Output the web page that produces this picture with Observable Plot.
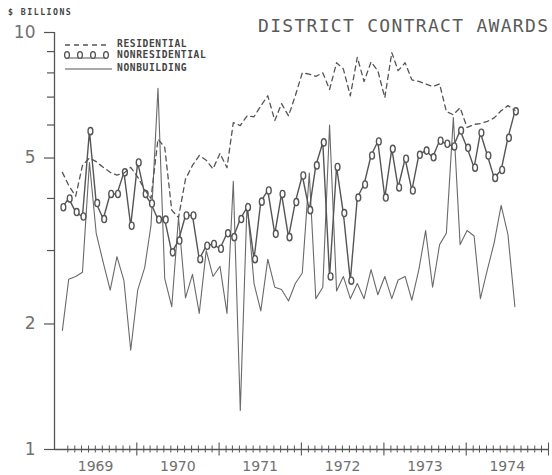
<!DOCTYPE html>
<html><head><meta charset="utf-8">
<script src="https://cdn.jsdelivr.net/npm/d3@7"></script>
<script src="https://cdn.jsdelivr.net/npm/@observablehq/plot@0.6"></script>
<style>
html,body{margin:0;padding:0;background:#fff;}
#wrap{position:relative;width:552px;height:475px;overflow:hidden;background:#fff;}
#overlay{position:absolute;left:0;top:0;pointer-events:none;}
svg text{-webkit-font-smoothing:antialiased;}
</style></head><body><div id="wrap"></div>
<script>
// ---- data (monthly, $ billions), first month Feb 1969 ----
const firstMonth = "1969-02";
const residential = [4.62,4.3,4.05,4.8,5.0,4.9,4.75,4.62,4.55,4.6,4.75,4.5,
  4.2,4.0,5.55,5.3,3.75,3.6,4.45,4.8,5.07,4.94,4.71,5.13,
  4.74,6.08,5.98,6.31,6.28,6.67,7.05,6.15,6.75,6.31,7.05,8.0,
  7.95,7.85,8.0,7.3,8.46,8.18,7.05,8.72,7.63,8.5,8.1,6.98,
  8.95,8.1,8.46,7.7,7.63,7.53,7.42,7.53,6.46,6.35,6.6,5.92,
  6.02,6.05,6.12,6.24,6.49,6.68,6.5];
const nonresidential = [3.81,4.0,3.71,3.62,5.8,3.9,3.57,4.1,4.1,4.62,3.44,4.88,
  4.1,3.89,3.56,3.56,2.97,3.17,3.64,3.64,2.86,3.08,3.11,3.03,
  3.3,3.23,3.57,3.81,2.86,3.93,4.18,3.29,4.1,3.23,3.92,4.54,
  3.75,4.8,5.45,2.6,4.76,3.69,2.54,4.02,4.32,5.07,5.48,4.02,
  5.26,4.25,4.98,4.18,5.09,5.21,5.02,5.5,5.41,5.33,5.82,5.29,
  4.74,5.75,5.07,4.48,4.68,5.59,6.47];
const nonbuilding = [1.93,2.56,2.6,2.66,4.88,3.3,2.81,2.41,2.9,2.54,1.73,2.41,
  2.73,3.45,7.35,2.57,2.2,3.6,2.31,2.63,2.12,3.0,2.6,2.75,
  2.12,4.4,1.24,3.9,2.5,2.15,2.86,2.45,2.42,2.27,2.5,2.65,
  4.6,2.3,2.45,6.0,2.4,2.6,2.3,2.5,2.3,2.7,2.35,2.6,
  2.3,2.55,2.6,2.28,2.7,3.35,2.45,3.1,3.3,6.25,3.1,3.35,
  3.25,2.3,2.7,3.13,3.85,3.28,2.2];
const yearLabels = ["1969","1970","1971","1972","1973","1974"];
const yMajor = [1,2,5,10];
const yMinor = [3,4,6,7,8,9];
const seriesNames = ["RESIDENTIAL","NONRESIDENTIAL","NONBUILDING"];
const titleText = "DISTRICT CONTRACT AWARDS";
const unitText = "$ BILLIONS";

// ---- build tables ----
const parseM = d3.utcParse("%Y-%m");
const m0 = parseM(firstMonth);
const dateAt = i => d3.utcDay.offset(d3.utcMonth.offset(m0, i), 4);
const rows = vals => vals.map((v, i) => ({date: dateAt(i), value: v}));
const resRows = rows(residential), nonresRows = rows(nonresidential), nbRows = rows(nonbuilding);
const years = yearLabels.map(Number);
const xStart = new Date(Date.UTC(years[0], 0, 1));
const xEnd = new Date(Date.UTC(years[years.length - 1] + 1, 0, 1));
const yearStarts = years.slice(1).concat([years[years.length - 1] + 1]).map(y => new Date(Date.UTC(y, 0, 1)));
const midYears = years.map(y => new Date(Date.UTC(y, 6, 2)));
const monthTicks = d3.utcMonth.range(d3.utcMonth.offset(xStart, 2), xEnd).filter(d => d.getUTCMonth() !== 0);

// oval "0"-like plotter symbol
const K = 0.5523;
const oval = {draw(ctx, size) {
  const rx = 2.4, ry = 3.6;
  ctx.moveTo(0, -ry);
  ctx.bezierCurveTo(K * rx, -ry, rx, -K * ry, rx, 0);
  ctx.bezierCurveTo(rx, K * ry, K * rx, ry, 0, ry);
  ctx.bezierCurveTo(-K * rx, ry, -rx, K * ry, -rx, 0);
  ctx.bezierCurveTo(-rx, -K * ry, -K * rx, -ry, 0, -ry);
  ctx.closePath();
}};

const ink = "#555";
const chart = Plot.plot({
  width: 552, height: 475,
  marginLeft: 54, marginRight: 4, marginTop: 32, marginBottom: 26,
  style: {background: "#fff", color: ink, fontFamily: "DejaVu Sans", overflow: "visible"},
  x: {type: "utc", domain: [xStart, xEnd], axis: null},
  y: {type: "log", domain: [1, 10], axis: null},
  marks: [
    Plot.ruleX([xStart], {y1: 1, y2: 10, stroke: ink, strokeWidth: 1.3}),
    Plot.ruleY([1], {stroke: ink, strokeWidth: 1.3}),
    Plot.axisY({ticks: yMajor, label: null, tickSize: 10, tickPadding: 9, tickFormat: d => String(d), fontSize: 17, fill: "#707070", stroke: ink, strokeWidth: 1.2}),
    Plot.axisY({ticks: yMinor, label: null, tickSize: 7, tickFormat: () => "", stroke: ink, strokeWidth: 1.2}),
    Plot.ruleX(monthTicks, {x: d => d, y1: () => 1, y2: () => 1, insetTop: -3.5, insetBottom: -3.5, stroke: ink, strokeWidth: 1}),
    Plot.ruleX(yearStarts, {x: d => d, y1: () => 1, y2: () => 1, insetTop: -6.5, insetBottom: -6.5, stroke: ink, strokeWidth: 1.1}),
    Plot.axisX({ticks: midYears, label: null, tickSize: 0, tickPadding: 12, tickFormat: d => String(d.getUTCFullYear()), fontSize: 14, fill: "#707070"}),
    Plot.line(nbRows, {x: "date", y: "value", stroke: "#6a6a6a", strokeWidth: 1.1}),
    Plot.line(nonresRows, {x: "date", y: "value", stroke: ink, strokeWidth: 1.4}),
    Plot.dot(nonresRows, {x: "date", y: "value", symbol: oval, r: 3, fill: "white", stroke: ink, strokeWidth: 1.4, dx: 1}),
    Plot.line(resRows, {x: "date", y: "value", stroke: ink, strokeWidth: 1.3, strokeDasharray: "5,4"})
  ]
});
const wrap = document.getElementById("wrap");
wrap.appendChild(chart);

// ---- overlay: unit label, title, legend ----
const ns = "http://www.w3.org/2000/svg";
const ov = document.createElementNS(ns, "svg");
ov.setAttribute("id", "overlay");
ov.setAttribute("width", 552); ov.setAttribute("height", 475);
function txt(s, x, y, size, ls, weight, fill) {
  const t = document.createElementNS(ns, "text");
  t.setAttribute("x", x); t.setAttribute("y", y);
  t.setAttribute("font-family", "DejaVu Sans Mono");
  t.setAttribute("font-size", size);
  t.setAttribute("letter-spacing", ls);
  t.setAttribute("font-weight", weight);
  t.setAttribute("fill", fill);
  t.textContent = s;
  ov.appendChild(t);
}
function ln(x1, y1, x2, y2, w, dash) {
  const l = document.createElementNS(ns, "line");
  l.setAttribute("x1", x1); l.setAttribute("y1", y1); l.setAttribute("x2", x2); l.setAttribute("y2", y2);
  l.setAttribute("stroke", ink); l.setAttribute("stroke-width", w);
  if (dash) l.setAttribute("stroke-dasharray", dash);
  ov.appendChild(l);
}
txt(unitText, 8, 15, 8.2, 1.5, "bold", "#444");
txt(titleText, 258, 32, 18, 1.3, "normal", "#5a5a5a");
// legend
ln(65, 45, 109, 45, 1.3, "5,4");
ln(66, 58, 107, 58, 1.2);
[67, 80, 93, 106].forEach(x => {
  const e = document.createElementNS(ns, "ellipse");
  e.setAttribute("cx", x); e.setAttribute("cy", 55);
  e.setAttribute("rx", 2.4); e.setAttribute("ry", 3.4);
  e.setAttribute("fill", "white"); e.setAttribute("stroke", ink); e.setAttribute("stroke-width", 1.3);
  ov.appendChild(e);
});
ln(65, 69, 112, 69, 1.1);
txt(seriesNames[0], 117, 47, 9.6, 0.6, "bold", "#444");
txt(seriesNames[1], 117, 58, 9.6, 0.6, "bold", "#444");
txt(seriesNames[2], 117, 71, 9.6, 0.6, "bold", "#444");
wrap.appendChild(ov);
</script></body></html>
